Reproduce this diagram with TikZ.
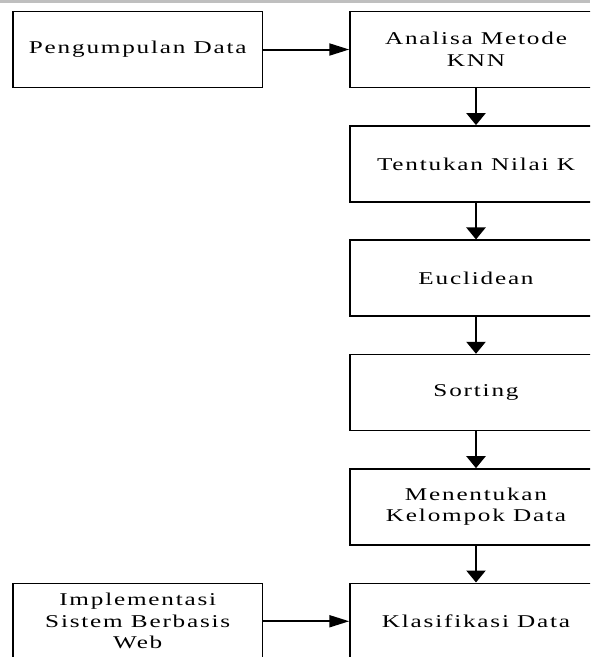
\documentclass[tikz,border=0pt]{standalone}
\usepackage{fontspec}
\setmainfont{Liberation Serif}[FakeStretch=1.4,LetterSpace=10]
\usetikzlibrary{arrows.meta}
\tikzset{
  box/.style={draw=black,line width=1.5pt,fill=white,rectangle,align=center,
    font=\fontsize{18}{21.5}\selectfont,inner sep=0pt},
  rbox/.style={box,minimum width=252pt,minimum height=76pt},
  lbox/.style={box,minimum width=249.5pt,minimum height=76pt},
  varrow/.style={line width=2.4pt,-{Triangle[length=12pt,width=19pt]}},
  harrow/.style={line width=2pt,-{Triangle[length=20pt,width=12pt]}},
}
\begin{document}
\begin{tikzpicture}[x=1pt,y=-1pt]
\useasboundingbox (0,0) rectangle (590,657);
\clip (0,0) rectangle (590,657);
\fill[white] (0,0) rectangle (590,657);
\fill[black!25] (0,0) rectangle (590,2.5);
\node[lbox] (pd) at (137.75,49.5) {Pengumpulan Data};
\node[rbox] (am) at (476,49.5) {Analisa Metode\\KNN};
\node[rbox] (tk) at (476,163.85) {Tentukan Nilai K};
\node[rbox] (eu) at (476,278.2) {Euclidean};
\node[rbox] (so) at (476,392.55) {Sorting};
\node[rbox] (mk) at (476,506.9) {Menentukan\\Kelompok Data};
\node[rbox] (kd) at (476,621.25) {Klasifikasi Data};
\node[lbox] (im) at (137.75,621.25) {Implementasi\\Sistem Berbasis\\Web};
\draw[harrow] (pd) -- (am);
\draw[harrow] (im) -- (kd);
\draw[varrow] (am) -- (tk);
\draw[varrow] (tk) -- (eu);
\draw[varrow] (eu) -- (so);
\draw[varrow] (so) -- (mk);
\draw[varrow] (mk) -- (kd);
\end{tikzpicture}
\end{document}
